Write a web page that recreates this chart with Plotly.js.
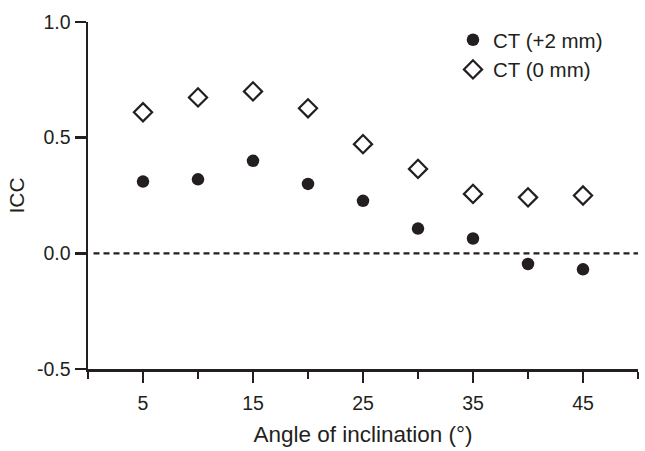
<!DOCTYPE html>
<html>
<head>
<meta charset="utf-8">
<script src="https://cdn.plot.ly/plotly-3.0.1.min.js"></script>
<style>html,body{margin:0;padding:0;background:#fff}#chart{width:645px;height:451px}</style>
</head>
<body>
<div id="chart"></div>
<script>
const angles = [5, 10, 15, 20, 25, 30, 35, 40, 45];
const ct2mm = [0.31, 0.32, 0.40, 0.30, 0.227, 0.107, 0.064, -0.046, -0.069];
const ct0mm = [0.61, 0.674, 0.70, 0.627, 0.472, 0.365, 0.257, 0.242, 0.25];
const seriesNames = ["CT (+2 mm)", "CT (0 mm)"];
const yTicks = [-0.5, 0.0, 0.5, 1.0];
const yTickText = ["-0.5", "0.0", "0.5", "1.0"];

const ink = "#231f20";
const fam = "Liberation Sans, Arial, sans-serif";
const tickFont = {family: fam, size: 19.5, color: ink};
const xTitleFont = {family: fam, size: 22.5, color: ink};
const yTitleFont = {family: fam, size: 21, color: ink};
const legendFont = {family: fam, size: 20.5, color: ink};

const traces = [
  {x: angles, y: ct2mm, name: seriesNames[0], type: "scatter", mode: "markers",
   marker: {symbol: "circle", size: 12.5, color: ink}},
  {x: angles, y: ct0mm, name: seriesNames[1], type: "scatter", mode: "markers",
   marker: {symbol: "diamond-open", size: 14, color: ink, line: {width: 2.2, color: ink}}}
];

const layout = {
  width: 645, height: 451,
  margin: {l: 88, r: 7, t: 22, b: 82},
  paper_bgcolor: "#fff", plot_bgcolor: "#fff",
  font: tickFont,
  showlegend: true,
  legend: {x: 0.6636, y: 1.006, xanchor: "left", yanchor: "top", bgcolor: "rgba(0,0,0,0)",
           font: legendFont, itemwidth: 30, tracegroupgap: 0},
  xaxis: {
    range: [0, 50], tick0: 5, dtick: 10, ticks: "outside", ticklen: 11, tickwidth: 2.5,
    tickcolor: ink, showline: true, linecolor: ink, linewidth: 2.5, showgrid: false,
    zeroline: false, tickfont: tickFont, ticklabelstandoff: 4,
    minor: {tick0: 0, dtick: 10, ticks: "outside", ticklen: 7, tickwidth: 2.5, tickcolor: ink, showgrid: false},
    title: {text: "Angle of inclination (°)", font: xTitleFont, standoff: 14}
  },
  yaxis: {
    range: [-0.5, 1.0], tickvals: yTicks, ticktext: yTickText, ticks: "outside", ticklen: 11,
    tickwidth: 2.5, tickcolor: ink, showline: true, linecolor: ink, linewidth: 2.5,
    showgrid: false, zeroline: false, tickfont: tickFont,
    title: {text: "ICC", font: yTitleFont, standoff: 7}
  },
  shapes: [{type: "line", xref: "x", yref: "y", x0: 0.5, x1: 50.3, y0: 0, y1: 0,
            line: {color: ink, width: 2.2, dash: "6px,4px"}}]
};

Plotly.newPlot("chart", traces, layout, {displayModeBar: false, staticPlot: true});
</script>
</body>
</html>
